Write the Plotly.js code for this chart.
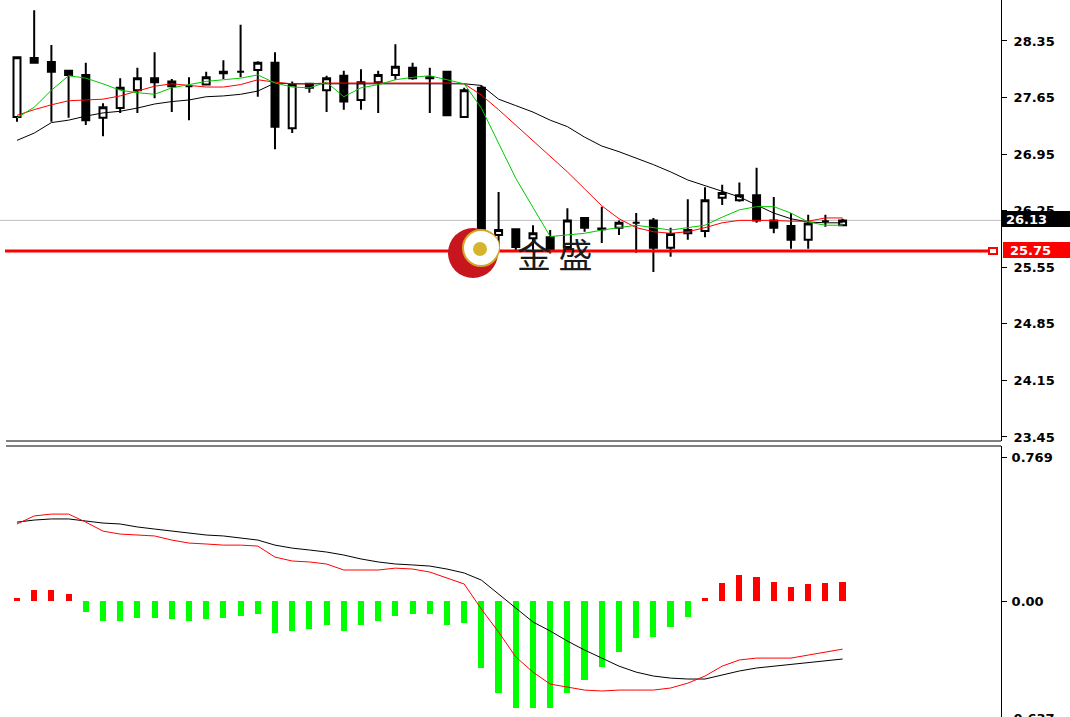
<!DOCTYPE html>
<html>
<head>
<meta charset="utf-8">
<script src="https://cdn.plot.ly/plotly-3.0.1.min.js"></script>
<style>
html,body{margin:0;padding:0;background:#fff;}
#chart{width:1070px;height:717px;}
</style>
</head>
<body>
<div id="chart"></div>
<script>
// ---- price candles ----
const openP  = [27.41,28.14,28.09,27.98,27.93,27.40,27.52,27.74,27.89,27.85,27.79,27.81,27.97,27.97,27.99,28.08,27.27,27.82,27.74,27.92,27.62,27.84,27.93,28.02,27.90,27.97,27.41,27.77,25.95,26.02,25.91,25.92,25.80,26.16,26.02,26.04,26.10,26.13,25.79,25.97,26.00,26.41,26.38,26.44,26.13,26.06,25.89,26.12,26.07];
const highP  = [28.15,28.73,28.30,27.99,28.08,27.58,27.89,28.02,28.21,27.88,27.90,27.97,28.11,28.55,28.10,28.21,27.85,27.83,27.92,27.98,28.00,27.98,28.31,28.08,28.02,27.98,27.77,27.80,26.48,26.02,26.07,26.01,26.28,26.17,26.30,26.13,26.22,26.16,26.04,26.39,26.54,26.57,26.60,26.78,26.42,26.22,26.20,26.20,26.15];
const lowP   = [27.35,28.08,27.35,27.40,27.31,27.17,27.46,27.46,27.64,27.47,27.37,27.81,27.88,27.90,27.66,27.01,27.21,27.71,27.47,27.50,27.50,27.46,27.87,27.87,27.46,27.43,27.40,25.80,25.76,25.76,25.76,25.72,25.79,25.99,25.85,25.95,25.73,25.49,25.68,25.89,25.92,26.32,26.36,26.10,25.97,25.78,25.78,26.05,26.07];
const closeP = [28.15,28.08,27.97,27.93,27.37,27.53,27.77,27.89,27.84,27.79,27.79,27.90,27.95,27.97,28.08,27.29,27.81,27.77,27.89,27.60,27.84,27.93,28.03,27.89,27.89,27.43,27.74,25.98,26.01,25.80,25.97,25.76,26.13,26.04,26.03,26.10,26.10,25.79,25.96,26.01,26.38,26.47,26.44,26.13,26.04,25.89,26.09,26.12,26.13];

// ---- moving averages ----
const maFast = [27.40,27.53,27.74,27.92,27.89,27.82,27.74,27.71,27.69,27.77,27.81,27.85,27.87,27.89,27.93,27.83,27.78,27.77,27.84,27.66,27.77,27.81,27.87,27.90,27.92,27.87,27.82,27.52,27.08,26.65,26.29,25.93,25.95,25.97,26.01,26.04,26.07,26.04,26.01,26.04,26.07,26.17,26.26,26.30,26.30,26.22,26.11,26.07,26.07];
const maMid  = [27.43,27.50,27.56,27.61,27.62,27.63,27.67,27.73,27.79,27.82,27.80,27.78,27.78,27.81,27.87,27.84,27.82,27.82,27.83,27.83,27.83,27.83,27.83,27.83,27.83,27.83,27.82,27.68,27.50,27.31,27.11,26.93,26.73,26.52,26.31,26.15,26.04,25.99,25.97,25.99,26.04,26.10,26.13,26.13,26.13,26.12,26.12,26.16,26.16];
const maSlow = [27.12,27.21,27.34,27.37,27.42,27.46,27.48,27.52,27.57,27.60,27.62,27.66,27.67,27.69,27.73,27.83,27.82,27.82,27.82,27.82,27.82,27.82,27.82,27.82,27.82,27.82,27.82,27.80,27.63,27.55,27.47,27.37,27.29,27.16,27.05,26.98,26.90,26.82,26.73,26.63,26.56,26.49,26.42,26.32,26.22,26.15,26.11,26.10,26.10];

// ---- MACD panel ----
const macdHist = [0.015,0.058,0.058,0.04,-0.06,-0.105,-0.105,-0.09,-0.09,-0.095,-0.105,-0.095,-0.09,-0.08,-0.07,-0.17,-0.16,-0.15,-0.13,-0.16,-0.13,-0.105,-0.08,-0.07,-0.07,-0.13,-0.12,-0.36,-0.49,-0.57,-0.57,-0.57,-0.49,-0.42,-0.35,-0.27,-0.20,-0.19,-0.14,-0.087,0.015,0.095,0.14,0.13,0.10,0.077,0.09,0.095,0.10];
const macdBlack = [0.422,0.433,0.439,0.439,0.428,0.417,0.412,0.396,0.385,0.374,0.364,0.353,0.348,0.337,0.326,0.299,0.283,0.273,0.262,0.246,0.225,0.209,0.198,0.193,0.187,0.171,0.150,0.112,0.037,-0.037,-0.112,-0.160,-0.214,-0.262,-0.305,-0.348,-0.380,-0.401,-0.412,-0.417,-0.417,-0.396,-0.374,-0.358,-0.348,-0.342,-0.332,-0.321,-0.310];
const macdRed = [0.412,0.455,0.465,0.465,0.422,0.374,0.358,0.353,0.348,0.326,0.310,0.305,0.299,0.299,0.294,0.235,0.214,0.209,0.198,0.166,0.166,0.166,0.176,0.171,0.155,0.123,0.091,-0.043,-0.166,-0.299,-0.380,-0.444,-0.460,-0.476,-0.481,-0.476,-0.476,-0.476,-0.465,-0.439,-0.401,-0.348,-0.315,-0.305,-0.305,-0.305,-0.289,-0.273,-0.257];

// ---- levels and tick labels ----
const priceTicks = [28.35,27.65,26.95,26.25,25.55,24.85,24.15,23.45];
const priceTickText = ["28.35","27.65","26.95","26.25","25.55","24.85","24.15","23.45"];
const macdTicks = [0.769,0.00];
const macdTickText = ["0.769","0.00"];
const macdLowLabel = "-0.637";
const currentPrice = 26.13;
const supportLevel = 25.75;

const idx = openP.map((_, i) => i);

// pixel helpers for decorations (plot area 1001 x 717)
const PW = 1001, PH = 717;
const px = v => v / PW;
const py = v => 1 - v / PH;

const traces = [
  {
    type: 'candlestick', x: idx, open: openP, high: highP, low: lowP, close: closeP,
    xaxis: 'x', yaxis: 'y',
    increasing: {line: {color: '#000', width: 2}, fillcolor: '#ffffff'},
    decreasing: {line: {color: '#000', width: 2}, fillcolor: '#000000'},
    whiskerwidth: 0, hoverinfo: 'skip', showlegend: false
  },
  {type: 'scatter', mode: 'lines', x: idx, y: maSlow, line: {color: '#000', width: 1}, yaxis: 'y', hoverinfo: 'skip', showlegend: false},
  {type: 'scatter', mode: 'lines', x: idx, y: maMid, line: {color: '#ff0000', width: 1}, yaxis: 'y', hoverinfo: 'skip', showlegend: false},
  {type: 'scatter', mode: 'lines', x: idx, y: maFast, line: {color: '#00c800', width: 1}, yaxis: 'y', hoverinfo: 'skip', showlegend: false},
  {
    type: 'bar', x: idx, y: macdHist, yaxis: 'y2', width: 0.36,
    marker: {color: macdHist.map(v => v >= 0 ? '#ff0000' : '#00ff00'), line: {width: 0}},
    hoverinfo: 'skip', showlegend: false
  },
  {type: 'scatter', mode: 'lines', x: idx, y: macdBlack, line: {color: '#000', width: 1}, yaxis: 'y2', hoverinfo: 'skip', showlegend: false},
  {type: 'scatter', mode: 'lines', x: idx, y: macdRed, line: {color: '#ff0000', width: 1}, yaxis: 'y2', hoverinfo: 'skip', showlegend: false}
];

const tickFont = {family: 'DejaVu Sans, Verdana, sans-serif', size: 13, color: '#000', weight: 'bold'};
const tagFont = {family: 'DejaVu Sans, Verdana, sans-serif', size: 13, color: '#fff', weight: 'bold'};

const layout = {
  width: 1070, height: 717,
  margin: {l: 0, r: 69, t: 0, b: 0, pad: 0},
  paper_bgcolor: '#fff', plot_bgcolor: '#fff',
  showlegend: false,
  boxgap: 0.42,
  bargap: 0,
  xaxis: {
    range: [-0.988, 57.21], showgrid: false, zeroline: false, showticklabels: false,
    ticks: '', showline: false, fixedrange: true, rangeslider: {visible: false}
  },
  yaxis: {
    domain: [py(441), 1], range: [23.400, 28.857], side: 'right',
    showgrid: false, zeroline: false, showline: true, linecolor: '#000', linewidth: 1,
    ticks: 'outside', ticklen: 5, tickcolor: '#000', tickwidth: 1,
    tickvals: priceTicks, ticktext: priceTickText, tickfont: tickFont, ticklabelstandoff: 4
  },
  yaxis2: {
    domain: [0, py(446)], range: [-0.620, 0.829], side: 'right', anchor: 'x',
    showgrid: false, zeroline: false, showline: true, linecolor: '#000', linewidth: 1,
    ticks: 'outside', ticklen: 5, tickcolor: '#000', tickwidth: 1,
    tickvals: macdTicks, ticktext: macdTickText, tickfont: tickFont, ticklabelstandoff: 2
  },
  shapes: [
    // panel separators
    {type: 'line', xref: 'paper', yref: 'paper', x0: px(6), x1: 1, y0: py(441), y1: py(441), line: {color: '#000', width: 1}},
    {type: 'line', xref: 'paper', yref: 'paper', x0: px(6), x1: 1, y0: py(446), y1: py(446), line: {color: '#000', width: 1}},
    // current price line
    {type: 'line', xref: 'paper', yref: 'y', x0: 0, x1: 1, y0: currentPrice, y1: currentPrice, line: {color: '#c0c0c0', width: 1}, layer: 'below'},
    // support level line
    {type: 'line', xref: 'paper', yref: 'y', x0: px(5), x1: px(993), y0: supportLevel, y1: supportLevel, line: {color: '#ff0000', width: 3}},
    {type: 'rect', xref: 'paper', yref: 'y', ysizemode: 'pixel', yanchor: supportLevel, x0: px(989), x1: px(997), y0: -3, y1: 3, line: {color: '#ff0000', width: 2}, fillcolor: '#ffffff'},
    // price tags
    {type: 'rect', xref: 'paper', yref: 'paper', x0: px(1001), x1: px(1072), y0: py(227), y1: py(211), line: {width: 0}, fillcolor: '#000000'},
    {type: 'rect', xref: 'paper', yref: 'paper', x0: px(1003), x1: px(1072), y0: py(258), y1: py(242), line: {width: 0}, fillcolor: '#ff0000'},
    // watermark logo
    {type: 'circle', xref: 'paper', yref: 'paper', x0: px(448), x1: px(498), y0: py(278), y1: py(228), line: {width: 0}, fillcolor: '#c8161e', layer: 'above'},
    {type: 'circle', xref: 'paper', yref: 'paper', x0: px(463), x1: px(499), y0: py(266), y1: py(230), line: {color: '#d4a62a', width: 2}, fillcolor: '#ffffff', layer: 'above'},
    {type: 'circle', xref: 'paper', yref: 'paper', x0: px(471), x1: px(499), y0: py(261), y1: py(233), line: {width: 0}, fillcolor: '#ffffff', layer: 'above'},
    {type: 'circle', xref: 'paper', yref: 'paper', x0: px(473), x1: px(487), y0: py(256), y1: py(242), line: {width: 0}, fillcolor: '#d6b52c', layer: 'above'}
  ],
  annotations: [
    {xref: 'paper', yref: 'paper', x: px(1004), y: py(219), xanchor: 'left', yanchor: 'middle', text: currentPrice.toFixed(2), showarrow: false, font: tagFont},
    {xref: 'paper', yref: 'paper', x: px(1008), y: py(250), xanchor: 'left', yanchor: 'middle', text: supportLevel.toFixed(2), showarrow: false, font: tagFont},
    {xref: 'paper', yref: 'paper', x: px(1006), y: py(718), xanchor: 'left', yanchor: 'middle', text: macdLowLabel, showarrow: false, font: tickFont},
    {xref: 'paper', yref: 'paper', x: px(555), y: py(254), xanchor: 'center', yanchor: 'middle', text: '金 盛', showarrow: false, font: {family: 'Noto Sans CJK SC', size: 34, color: '#1a1a1a'}}
  ]
};

Plotly.newPlot('chart', traces, layout, {staticPlot: true, displayModeBar: false});
</script>
</body>
</html>
